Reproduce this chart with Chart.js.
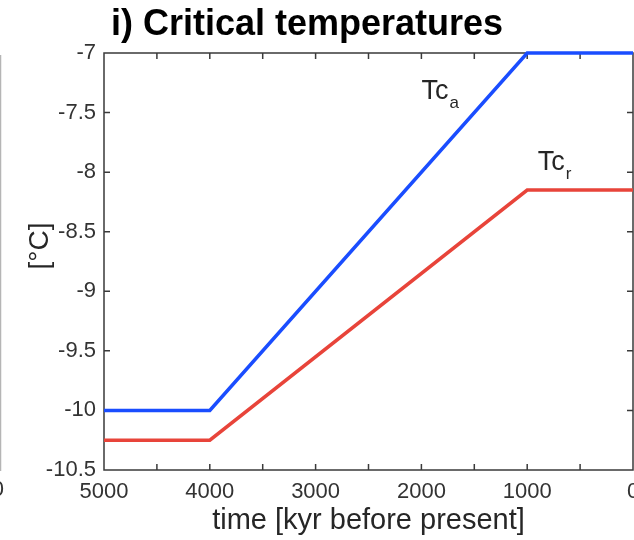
<!DOCTYPE html>
<html>
<head>
<meta charset="utf-8">
<script src="https://cdn.jsdelivr.net/npm/chart.js@4/dist/chart.umd.min.js"></script>
<style>
  html, body { margin: 0; padding: 0; background: #fff; }
  canvas { display: block; }
</style>
</head>
<body>
<canvas id="myChart" width="634" height="540"></canvas>
<script>
// time in kyr before present, critical temperatures in °C
let years = [5000, 4000, 1000, 0];
let tcA = [-10, -10, -7, -7];
let tcR = [-10.25, -10.25, -8.15, -8.15];
let xTickStep = 500, xLabelStep = 1000;
let yTickStep = 0.5;

const FONT = "'Liberation Sans', Arial, Helvetica, sans-serif";

let pts = (ys) => years.map((x, i) => ({x: x, y: ys[i]}));

// frame, inward ticks, titles and line labels
let decor = {
  id: 'decor',
  beforeDatasetsDraw(chart) {
    let ctx = chart.ctx, a = chart.chartArea,
        xs = chart.scales.x, ys = chart.scales.y;
    ctx.save();
    ctx.strokeStyle = '#3a3a3a';
    ctx.lineWidth = 1.5;
    ctx.strokeRect(a.left, a.top, a.right - a.left, a.bottom - a.top);
    ctx.beginPath();
    for (let v = xs.min + xTickStep; v < xs.max; v += xTickStep) {
      let px = xs.getPixelForValue(v);
      ctx.moveTo(px, a.bottom); ctx.lineTo(px, a.bottom - 6);
      ctx.moveTo(px, a.top); ctx.lineTo(px, a.top + 6);
    }
    for (let v = ys.min + yTickStep; v < ys.max - 1e-9; v += yTickStep) {
      let py = ys.getPixelForValue(v);
      ctx.moveTo(a.left, py); ctx.lineTo(a.left + 6, py);
      ctx.moveTo(a.right, py); ctx.lineTo(a.right - 6, py);
    }
    ctx.stroke();
    // edge of the neighbouring panel
    ctx.strokeStyle = '#b5b5b5';
    ctx.lineWidth = 1.5;
    ctx.beginPath();
    ctx.moveTo(0.5, 55); ctx.lineTo(0.5, 471);
    ctx.stroke();
    ctx.fillStyle = '#333';
    ctx.font = '22px ' + FONT;
    ctx.textAlign = 'right';
    ctx.textBaseline = 'middle';
    ctx.fillText('0', 4, 490);
    ctx.restore();
  },
  afterDraw(chart) {
    let ctx = chart.ctx, xs = chart.scales.x, ys = chart.scales.y;
    ctx.save();
    ctx.fillStyle = '#000';
    ctx.font = 'bold 36px ' + FONT;
    ctx.textAlign = 'left';
    ctx.textBaseline = 'alphabetic';
    ctx.fillText('i) Critical temperatures', 111, 35);

    ctx.fillStyle = '#262626';
    ctx.font = '28px ' + FONT;
    ctx.save();
    ctx.translate(40, 246);
    ctx.rotate(-Math.PI / 2);
    ctx.textAlign = 'center';
    ctx.textBaseline = 'middle';
    ctx.fillText('[°C]', 0, 0);
    ctx.restore();

    let label = (main, sub, xv, yv) => {
      let px = xs.getPixelForValue(xv), py = ys.getPixelForValue(yv);
      ctx.font = '27px ' + FONT;
      ctx.fillText(main, px, py);
      let w = ctx.measureText(main).width;
      ctx.font = '17px ' + FONT;
      ctx.fillText(sub, px + w + 1, py + 9);
    };
    label('Tc', 'a', 2000, -7.39);
    label('Tc', 'r', 900, -7.98);
    ctx.restore();
  }
};

let ctx = document.getElementById('myChart').getContext('2d');
let myChart = new Chart(ctx, {
  type: 'line',
  data: {
    datasets: [
      {label: 'Tc_a', data: pts(tcA), borderColor: '#1a4dff', borderWidth: 3.5, pointRadius: 0, clip: 4, tension: 0},
      {label: 'Tc_r', data: pts(tcR), borderColor: '#e8443a', borderWidth: 3.5, pointRadius: 0, clip: 4, tension: 0}
    ]
  },
  options: {
    responsive: false,
    animation: false,
    devicePixelRatio: 1,
    layout: {padding: {top: 53, right: 1, left: 0, bottom: 0}},
    plugins: {legend: {display: false}, title: {display: false}, tooltip: {enabled: false}},
    scales: {
      x: {
        type: 'linear', reverse: true, min: 0, max: 5000,
        grid: {display: false, drawTicks: false},
        border: {display: false},
        ticks: {
          stepSize: xTickStep, autoSkip: false, maxRotation: 0, padding: 9,
          color: '#333', font: {family: FONT, size: 22},
          callback: (v) => v % xLabelStep === 0 ? String(v) : ''
        },
        title: {display: true, text: 'time [kyr before present]', color: '#262626',
                font: {family: FONT, size: 29}, padding: {top: 0, bottom: 2}},
        afterFit: (s) => { s.height = 70; s.paddingLeft = 0; s.paddingRight = 0; }
      },
      y: {
        min: -10.5, max: -7,
        grid: {display: false, drawTicks: false},
        border: {display: false},
        ticks: {stepSize: yTickStep, padding: 8, color: '#333', font: {family: FONT, size: 22},
                callback: (v) => String(v)},
        afterFit: (s) => { s.width = 104; s.paddingTop = 0; s.paddingBottom = 0; }
      }
    }
  },
  plugins: [decor]
});
</script>
</body>
</html>
